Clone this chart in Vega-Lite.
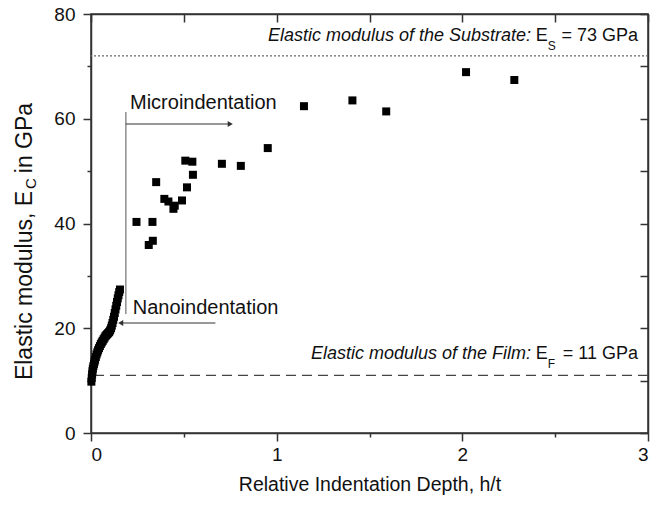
{
  "$schema": "https://vega.github.io/schema/vega-lite/v6.json",
  "width": 557,
  "height": 419,
  "autosize": {"type": "none"},
  "padding": {"left": 91, "top": 14, "right": 24, "bottom": 80},
  "background": "white",
  "config": {
    "view": {"stroke": "#333", "strokeWidth": 1.5},
    "axis": {
      "domainColor": "#333", "domainWidth": 1.5, "tickColor": "#333", "tickWidth": 1.5,
      "labelFont": "Liberation Sans", "labelFontSize": 19, "labelColor": "#111",
      "grid": false, "titleFont": "Liberation Sans", "titleFontSize": 19.5,
      "titleFontWeight": "normal", "titleColor": "#111"
    },
    "text": {"font": "Liberation Sans", "color": "#111"}
  },
  "datasets": {
    "points": [
      {"h": 0.002, "E": 9.8}, {"h": 0.004, "E": 10.5}, {"h": 0.006, "E": 11.2}, {"h": 0.008, "E": 11.8},
      {"h": 0.010, "E": 12.3}, {"h": 0.013, "E": 12.8}, {"h": 0.016, "E": 13.2}, {"h": 0.019, "E": 13.6},
      {"h": 0.022, "E": 14.0}, {"h": 0.026, "E": 14.5}, {"h": 0.030, "E": 15.0}, {"h": 0.034, "E": 15.4},
      {"h": 0.038, "E": 15.8}, {"h": 0.043, "E": 16.2}, {"h": 0.048, "E": 16.6}, {"h": 0.053, "E": 17.0},
      {"h": 0.058, "E": 17.3}, {"h": 0.063, "E": 17.6}, {"h": 0.068, "E": 17.9}, {"h": 0.073, "E": 18.2},
      {"h": 0.078, "E": 18.5}, {"h": 0.083, "E": 18.7}, {"h": 0.088, "E": 18.9}, {"h": 0.093, "E": 19.1},
      {"h": 0.098, "E": 19.3}, {"h": 0.103, "E": 19.6}, {"h": 0.108, "E": 20.0}, {"h": 0.112, "E": 20.5},
      {"h": 0.116, "E": 21.0}, {"h": 0.120, "E": 21.6}, {"h": 0.124, "E": 22.2}, {"h": 0.128, "E": 22.9},
      {"h": 0.132, "E": 23.6}, {"h": 0.136, "E": 24.3}, {"h": 0.140, "E": 25.0}, {"h": 0.144, "E": 25.7},
      {"h": 0.148, "E": 26.3}, {"h": 0.152, "E": 26.9}, {"h": 0.156, "E": 27.4},
      {"h": 0.245, "E": 40.3}, {"h": 0.331, "E": 40.3}, {"h": 0.311, "E": 35.9}, {"h": 0.333, "E": 36.7},
      {"h": 0.351, "E": 47.9}, {"h": 0.395, "E": 44.7}, {"h": 0.417, "E": 44.2}, {"h": 0.444, "E": 42.8},
      {"h": 0.451, "E": 43.4}, {"h": 0.490, "E": 44.4}, {"h": 0.517, "E": 46.9}, {"h": 0.508, "E": 52.0},
      {"h": 0.546, "E": 51.8}, {"h": 0.549, "E": 49.3}, {"h": 0.705, "E": 51.4}, {"h": 0.807, "E": 51.0},
      {"h": 0.952, "E": 54.4}, {"h": 1.147, "E": 62.4}, {"h": 1.408, "E": 63.5}, {"h": 1.590, "E": 61.4},
      {"h": 2.020, "E": 68.9}, {"h": 2.280, "E": 67.4}
    ],
    "refs": [{"E": 72, "kind": "substrate"}, {"E": 11, "kind": "film"}],
    "vline": [{"h": 0.188, "E": 61.3, "E2": 22.7}],
    "arrows": [
      {"name": "micro", "h": 0.188, "h2": 0.75, "E": 59.0},
      {"name": "nano", "h": 0.67, "h2": 0.16, "E": 21.0}
    ],
    "labels": [
      {"h": 0.21, "E": 63.0, "text": "Microindentation"},
      {"h": 0.225, "E": 23.9, "text": "Nanoindentation"}
    ],
    "italic": [
      {"h": 2.37, "E": 75.8, "text": "Elastic modulus of the Substrate:"},
      {"h": 2.37, "E": 15.1, "text": "Elastic modulus of the Film:"}
    ],
    "ebase": [
      {"h": 2.395, "E": 75.8, "text": "E"},
      {"h": 2.395, "E": 15.1, "text": "E"}
    ],
    "esub": [
      {"h": 2.46, "E": 74.9, "text": "S"},
      {"h": 2.46, "E": 14.2, "text": "F"}
    ],
    "eq": [
      {"h": 2.946, "E": 75.8, "text": "= 73 GPa"},
      {"h": 2.946, "E": 15.1, "text": "= 11 GPa"}
    ],
    "ytitle": [
      {"h": -0.354, "E": 10.1, "text": "Elastic modulus, E"},
      {"h": -0.354, "E": 49.6, "text": " in GPa"}
    ],
    "ysub": [{"h": -0.322, "E": 46.6, "text": "C"}]
  },
  "layer": [
    {
      "data": {"name": "refs"},
      "transform": [{"filter": "datum.kind === 'substrate'"}],
      "mark": {"type": "rule", "color": "#666", "strokeWidth": 1.2, "strokeDash": [2, 2]},
      "encoding": {"y": {"field": "E", "type": "quantitative", "scale": {"domain": [0, 80], "nice": false, "zero": false}, "axis": null}}
    },
    {
      "data": {"name": "refs"},
      "transform": [{"filter": "datum.kind === 'film'"}],
      "mark": {"type": "rule", "color": "#444", "strokeWidth": 1.2, "strokeDash": [10, 6]},
      "encoding": {"y": {"field": "E", "type": "quantitative", "scale": {"domain": [0, 80], "nice": false, "zero": false}, "axis": null}}
    },
    {
      "data": {"name": "vline"},
      "mark": {"type": "rule", "color": "#555", "strokeWidth": 1},
      "encoding": {
        "x": {"field": "h", "type": "quantitative", "scale": {"domain": [0, 3], "nice": false, "zero": false}, "axis": null},
        "y": {"field": "E", "type": "quantitative", "scale": {"domain": [0, 80], "nice": false, "zero": false}, "axis": null},
        "y2": {"field": "E2"}
      }
    },
    {
      "data": {"name": "arrows"},
      "mark": {"type": "rule", "color": "#333", "strokeWidth": 1.2},
      "encoding": {
        "x": {"field": "h", "type": "quantitative", "scale": {"domain": [0, 3], "nice": false, "zero": false}, "axis": null},
        "x2": {"field": "h2"},
        "y": {"field": "E", "type": "quantitative", "scale": {"domain": [0, 80], "nice": false, "zero": false}, "axis": null}
      }
    },
    {
      "data": {"name": "arrows"},
      "transform": [{"filter": "datum.name === 'micro'"}],
      "mark": {"type": "point", "shape": "triangle-right", "filled": true, "color": "#333", "size": 35, "opacity": 1},
      "encoding": {
        "x": {"field": "h2", "type": "quantitative", "scale": {"domain": [0, 3], "nice": false, "zero": false}, "axis": null},
        "y": {"field": "E", "type": "quantitative", "scale": {"domain": [0, 80], "nice": false, "zero": false}, "axis": null}
      }
    },
    {
      "data": {"name": "arrows"},
      "transform": [{"filter": "datum.name === 'nano'"}],
      "mark": {"type": "point", "shape": "triangle-left", "filled": true, "color": "#333", "size": 35, "opacity": 1},
      "encoding": {
        "x": {"field": "h2", "type": "quantitative", "scale": {"domain": [0, 3], "nice": false, "zero": false}, "axis": null},
        "y": {"field": "E", "type": "quantitative", "scale": {"domain": [0, 80], "nice": false, "zero": false}, "axis": null}
      }
    },
    {
      "data": {"name": "points"},
      "mark": {"type": "point", "shape": "square", "filled": true, "color": "#000", "size": 64, "opacity": 1},
      "encoding": {
        "x": {"field": "h", "type": "quantitative", "scale": {"domain": [0, 3], "nice": false, "zero": false},
          "axis": {"orient": "bottom", "values": [0, 0.5, 1, 1.5, 2, 2.5, 3],
            "labelExpr": "datum.value % 1 === 0 ? format(datum.value, 'd') : ''",
            "tickSize": {"condition": {"test": "datum.value % 1 !== 0", "value": 4}, "value": 8},
            "labelPadding": 4, "title": "Relative Indentation Depth, h/t", "titlePadding": 11}},
        "y": {"field": "E", "type": "quantitative", "scale": {"domain": [0, 80], "nice": false, "zero": false},
          "axis": {"orient": "left", "values": [0, 10, 20, 30, 40, 50, 60, 70, 80],
            "labelExpr": "datum.value % 20 === 0 ? format(datum.value, 'd') : ''",
            "tickSize": {"condition": {"test": "datum.value % 20 !== 0", "value": 4}, "value": 8},
            "labelPadding": 8, "title": null}}
      }
    },
    {
      "data": {"name": "points"},
      "mark": {"type": "point", "opacity": 0},
      "encoding": {
        "x": {"field": "h", "type": "quantitative", "scale": {"domain": [0, 3], "nice": false, "zero": false},
          "axis": {"orient": "top", "values": [0, 0.5, 1, 1.5, 2, 2.5, 3], "labels": false, "tickSize": -8, "title": null}},
        "y": {"field": "E", "type": "quantitative", "scale": {"domain": [0, 80], "nice": false, "zero": false},
          "axis": {"orient": "right", "values": [0, 10, 20, 30, 40, 50, 60, 70, 80], "labels": false, "tickSize": -8, "title": null}}
      }
    },
    {
      "data": {"name": "labels"},
      "mark": {"type": "text", "align": "left", "baseline": "middle", "fontSize": 20},
      "encoding": {
        "x": {"field": "h", "type": "quantitative", "scale": {"domain": [0, 3], "nice": false, "zero": false}, "axis": null},
        "y": {"field": "E", "type": "quantitative", "scale": {"domain": [0, 80], "nice": false, "zero": false}, "axis": null},
        "text": {"field": "text"}
      }
    },
    {
      "data": {"name": "eq"},
      "mark": {"type": "text", "align": "right", "baseline": "middle", "fontSize": 18},
      "encoding": {
        "x": {"field": "h", "type": "quantitative", "scale": {"domain": [0, 3], "nice": false, "zero": false}, "axis": null},
        "y": {"field": "E", "type": "quantitative", "scale": {"domain": [0, 80], "nice": false, "zero": false}, "axis": null},
        "text": {"field": "text"}
      }
    },
    {
      "data": {"name": "ebase"},
      "mark": {"type": "text", "align": "left", "baseline": "middle", "fontSize": 18},
      "encoding": {
        "x": {"field": "h", "type": "quantitative", "scale": {"domain": [0, 3], "nice": false, "zero": false}, "axis": null},
        "y": {"field": "E", "type": "quantitative", "scale": {"domain": [0, 80], "nice": false, "zero": false}, "axis": null},
        "text": {"field": "text"}
      }
    },
    {
      "data": {"name": "esub"},
      "mark": {"type": "text", "align": "left", "baseline": "top", "fontSize": 12},
      "encoding": {
        "x": {"field": "h", "type": "quantitative", "scale": {"domain": [0, 3], "nice": false, "zero": false}, "axis": null},
        "y": {"field": "E", "type": "quantitative", "scale": {"domain": [0, 80], "nice": false, "zero": false}, "axis": null},
        "text": {"field": "text"}
      }
    },
    {
      "data": {"name": "italic"},
      "mark": {"type": "text", "align": "right", "baseline": "middle", "fontSize": 18, "fontStyle": "italic"},
      "encoding": {
        "x": {"field": "h", "type": "quantitative", "scale": {"domain": [0, 3], "nice": false, "zero": false}, "axis": null},
        "y": {"field": "E", "type": "quantitative", "scale": {"domain": [0, 80], "nice": false, "zero": false}, "axis": null},
        "text": {"field": "text"}
      }
    },
    {
      "data": {"name": "ytitle"},
      "mark": {"type": "text", "align": "left", "baseline": "middle", "fontSize": 23, "angle": 270},
      "encoding": {
        "x": {"field": "h", "type": "quantitative", "scale": {"domain": [0, 3], "nice": false, "zero": false}, "axis": null},
        "y": {"field": "E", "type": "quantitative", "scale": {"domain": [0, 80], "nice": false, "zero": false}, "axis": null},
        "text": {"field": "text"}
      }
    },
    {
      "data": {"name": "ysub"},
      "mark": {"type": "text", "align": "left", "baseline": "middle", "fontSize": 15, "angle": 270},
      "encoding": {
        "x": {"field": "h", "type": "quantitative", "scale": {"domain": [0, 3], "nice": false, "zero": false}, "axis": null},
        "y": {"field": "E", "type": "quantitative", "scale": {"domain": [0, 80], "nice": false, "zero": false}, "axis": null},
        "text": {"field": "text"}
      }
    }
  ],
  "resolve": {"axis": {"x": "independent", "y": "independent"}}
}
